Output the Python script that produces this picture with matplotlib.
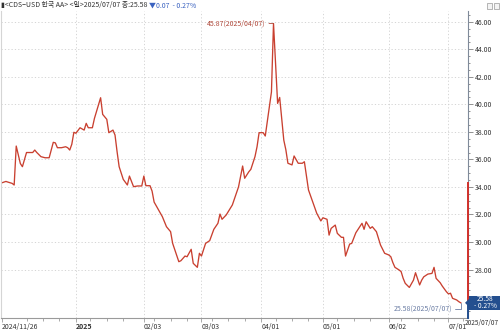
import matplotlib
matplotlib.use("Agg")
import matplotlib.pyplot as plt
import pandas as pd
import numpy as np
from matplotlib.patches import Polygon, Rectangle

plt.rcParams['font.family'] = ['Noto Sans CJK KR', 'DejaVu Sans']

dates = [
    "2024-11-26", "2024-11-28", "2024-11-29", "2024-12-01", "2024-12-02", "2024-12-03",
    "2024-12-05", "2024-12-06", "2024-12-08", "2024-12-09", "2024-12-11", "2024-12-12",
    "2024-12-13", "2024-12-15", "2024-12-17", "2024-12-19", "2024-12-21", "2024-12-22",
    "2024-12-23", "2024-12-25", "2024-12-27", "2024-12-28", "2024-12-29", "2024-12-30",
    "2024-12-31", "2025-01-01", "2025-01-03", "2025-01-05", "2025-01-06", "2025-01-07",
    "2025-01-09", "2025-01-10", "2025-01-13", "2025-01-14", "2025-01-16", "2025-01-17",
    "2025-01-19", "2025-01-20", "2025-01-21", "2025-01-22", "2025-01-24", "2025-01-26",
    "2025-01-27", "2025-01-29", "2025-01-31", "2025-02-02", "2025-02-03", "2025-02-04",
    "2025-02-06", "2025-02-07", "2025-02-08", "2025-02-10", "2025-02-12", "2025-02-14",
    "2025-02-16", "2025-02-17", "2025-02-20", "2025-02-21", "2025-02-23", "2025-02-24",
    "2025-02-26", "2025-02-27", "2025-03-01", "2025-03-02", "2025-03-03", "2025-03-05",
    "2025-03-07", "2025-03-09", "2025-03-11", "2025-03-12", "2025-03-13", "2025-03-15",
    "2025-03-18", "2025-03-21", "2025-03-23", "2025-03-24", "2025-03-26", "2025-03-27",
    "2025-03-29", "2025-03-30", "2025-03-31", "2025-04-02", "2025-04-03", "2025-04-05",
    "2025-04-06", "2025-04-07", "2025-04-09", "2025-04-10", "2025-04-12", "2025-04-13",
    "2025-04-14", "2025-04-16", "2025-04-17", "2025-04-19", "2025-04-21", "2025-04-22",
    "2025-04-24", "2025-04-26", "2025-04-28", "2025-04-30", "2025-05-01", "2025-05-03",
    "2025-05-04", "2025-05-05", "2025-05-07", "2025-05-08", "2025-05-10", "2025-05-11",
    "2025-05-12", "2025-05-14", "2025-05-15", "2025-05-17", "2025-05-18", "2025-05-20",
    "2025-05-21", "2025-05-22", "2025-05-24", "2025-05-25", "2025-05-27", "2025-05-28",
    "2025-05-29", "2025-05-31", "2025-06-02", "2025-06-03", "2025-06-04", "2025-06-05",
    "2025-06-07", "2025-06-08", "2025-06-09", "2025-06-10", "2025-06-12", "2025-06-14",
    "2025-06-15", "2025-06-17", "2025-06-18", "2025-06-19", "2025-06-21", "2025-06-23",
    "2025-06-24", "2025-06-25", "2025-06-27", "2025-06-28", "2025-06-30", "2025-07-01",
    "2025-07-02", "2025-07-03", "2025-07-05", "2025-07-06", "2025-07-07",
]
values = [
    34.30, 34.40, 34.35, 34.26, 34.14, 36.97,
    35.70, 35.47, 36.50, 36.50, 36.50, 36.68,
    36.50, 36.20, 36.12, 36.12, 37.24, 37.20,
    36.85, 36.85, 36.92, 36.85, 36.68, 37.10,
    37.97, 37.90, 38.30, 38.13, 38.62, 38.30,
    38.30, 38.98, 40.48, 39.27, 38.91, 37.94,
    38.13, 37.77, 36.56, 35.47, 34.55, 34.14,
    34.79, 34.02, 34.07, 34.07, 34.79, 34.09,
    34.09, 33.70, 32.90, 32.37, 31.84, 31.11,
    30.75, 29.90, 28.57, 28.64, 28.98, 28.93,
    29.47, 28.45, 28.16, 29.18, 28.98, 29.90,
    30.10, 30.92, 31.36, 32.03, 31.65, 31.96,
    32.69, 34.00, 35.52, 34.63, 35.10, 35.28,
    36.20, 36.92, 37.94, 37.94, 37.70, 39.83,
    40.90, 45.87, 40.07, 40.50, 37.40, 36.70,
    35.72, 35.60, 36.25, 35.72, 35.72, 35.83,
    33.78, 32.93, 32.09, 31.53, 31.76, 31.65,
    30.50, 30.99, 31.23, 30.63, 30.34, 30.34,
    28.98, 29.85, 29.90, 30.67, 30.90, 31.36,
    30.92, 31.47, 30.99, 31.11, 30.75, 30.27,
    29.78, 29.18, 29.06, 28.93, 28.50, 28.16,
    27.97, 27.85, 27.36, 27.00, 26.70, 27.23,
    27.77, 26.88, 27.23, 27.47, 27.67, 27.72,
    28.16, 27.36, 27.04, 26.80, 26.39, 26.23,
    26.28, 25.91, 25.79, 25.67, 25.58,
]
tick_dates = ["2024-11-26", "2025-01-01", "2025-02-03", "2025-03-03",
              "2025-04-01", "2025-05-01", "2025-06-02", "2025-07-01"]
tick_labels = ["2024/11/26", "2025", "02/03", "03/03", "04/01", "05/01", "06/02", "07/01"]
y_ticks = [28, 30, 32, 34, 36, 38, 40, 42, 44, 46]
title_main = "▮<CDS−USD 한국 AA> <일>2025/07/07 종:25.58 "
title_change = "▼0.07  - 0.27%"
last_label = "2025/07/07"
box_lines = "25.58\n- 0.27%"

x = pd.to_datetime(dates)
y = np.array(values)

LINE = "#c94030"
GRID = "#cfcfcf"
BLUE = "#244f8f"
FS = 5.0

fig = plt.figure(figsize=(5.0, 3.3), dpi=100)
W, H = 500, 330
ax = fig.add_axes([1 / W, 1 - 318 / H, 467 / W, 307 / H])

ax.plot(x, y, color=LINE, lw=0.95, solid_joinstyle='round')

start = x[0]
XLIM = (start - pd.Timedelta(days=0.4), start + pd.Timedelta(days=226.5))
YLIM = (24.48, 46.78)

# grid
for v in y_ticks:
    ax.axhline(v, color=GRID, lw=0.6, ls=(0, (1.5, 2.5)), zorder=0)
for d in tick_dates[1:]:
    ax.axvline(pd.Timestamp(d), color=GRID, lw=0.6, ls=(0, (1.5, 2.5)), zorder=0)

# x axis
ax.set_xticks(pd.to_datetime(tick_dates))
ax.set_xticklabels(tick_labels)
for lab in ax.get_xticklabels():
    lab.set_ha('left')
    lab.set_fontsize(FS)
    lab.set_color('#333333')
    if lab.get_text() == "2025":
        lab.set_fontweight('bold')
minor = []
for m in pd.date_range("2024-12-01", "2025-07-01", freq="MS"):
    for dday in (8, 16, 24):
        minor.append(m + pd.Timedelta(days=dday - 1))
ax.set_xticks(minor, minor=True)
ax.tick_params(axis='x', which='major', length=3, width=0.5, color='#888888', pad=0.8)
ax.tick_params(axis='x', which='minor', length=2, width=0.5, color='#888888')

# y axis on right
ax.yaxis.tick_right()
ax.set_yticks(y_ticks)
ax.set_yticklabels([f"{v:.2f}" for v in y_ticks])
ax.set_yticks(np.arange(25, 46.8, 0.5), minor=True)
ax.tick_params(axis='y', which='major', length=3.5, width=0.5, color='#666666',
               labelsize=FS, labelcolor='#333333', pad=1.5)
ax.tick_params(axis='y', which='minor', length=1.5, width=0.5, color='#666666')

ax.set_xlim(*XLIM)
ax.set_ylim(*YLIM)

ax.spines['top'].set_visible(False)
ax.spines['left'].set_color('#d5d5d5')
ax.spines['left'].set_linewidth(0.8)
ax.spines['bottom'].set_color('#9a9a9a')
ax.spines['bottom'].set_linewidth(0.8)
ax.spines['right'].set_color('#7f8a9a')
ax.spines['right'].set_linewidth(0.8)

# red/blue bar on right spine
trans = ax.get_yaxis_transform()
ax.plot([1, 1], [y[0], y[-1]], color='#d0302a', lw=1.4, transform=trans, clip_on=False, zorder=5)
ax.plot([1, 1], [y[-1], YLIM[0]], color=BLUE, lw=1.4, transform=trans, clip_on=False, zorder=5)

# peak annotation
ip = int(np.argmax(y))
ax.annotate(f"{y[ip]:.2f}({x[ip].strftime('%Y/%m/%d')})", xy=(x[ip], y[ip]),
            xytext=(-8, 0), textcoords='offset pixels', ha='right', va='center',
            fontsize=FS, color='#b0483a',
            arrowprops=dict(arrowstyle='-', color='#b0483a', lw=0.6, shrinkA=0.5, shrinkB=0))

# last value annotation
ax.annotate(f"{y[-1]:.2f}({x[-1].strftime('%Y/%m/%d')})", xy=(x[-1], y[-1]),
            xytext=(-9, -6), textcoords='offset pixels', ha='right', va='center',
            fontsize=FS, color='#6a7ca3',
            arrowprops=dict(arrowstyle='-', color='#6a7ca3', lw=0.6, shrinkA=0.5, shrinkB=0,
                            connectionstyle='angle,angleA=0,angleB=90,rad=0'))

# value box on right axis
yb = ax.transData.transform((0, y[-1]))[1]
yb_fig = yb / H
x0 = 469 / W
box = Rectangle((x0, yb_fig - 7 / H), (W - 469) / W, 14 / H, transform=fig.transFigure,
                facecolor=BLUE, edgecolor='none', zorder=10)
fig.patches.append(box)
tri = Polygon([[x0, yb_fig + 4 / H], [x0, yb_fig - 4 / H], [x0 - 4 / W, yb_fig]],
              closed=True, transform=fig.transFigure, facecolor=BLUE, edgecolor='none', zorder=10)
fig.patches.append(tri)
fig.text(485 / W, yb_fig, box_lines, color='white', fontsize=4.8, ha='center', va='center',
         linespacing=0.85, zorder=11)

# last date label at right of x axis
fig.text(499 / W, 1 - 323.5 / H, last_label, fontsize=4.7, color='#333333', ha='right', va='center')

# title
t1 = fig.text(1 / W, 1 - 5.5 / H, title_main, fontsize=FS, color='#333333', ha='left', va='center')
fig.canvas.draw()
bb = t1.get_window_extent()
fig.text(bb.x1 / W, 1 - 5.5 / H, title_change, fontsize=FS, color='#3a62c0', ha='left', va='center')

# top-right small icons
for xi in (487, 494):
    fig.patches.append(Rectangle((xi / W, 1 - 9 / H), 5 / W, 6 / H, transform=fig.transFigure,
                                 facecolor='#f4f4f4', edgecolor='#999999', lw=0.5))

fig.savefig("out.png", dpi=100)
